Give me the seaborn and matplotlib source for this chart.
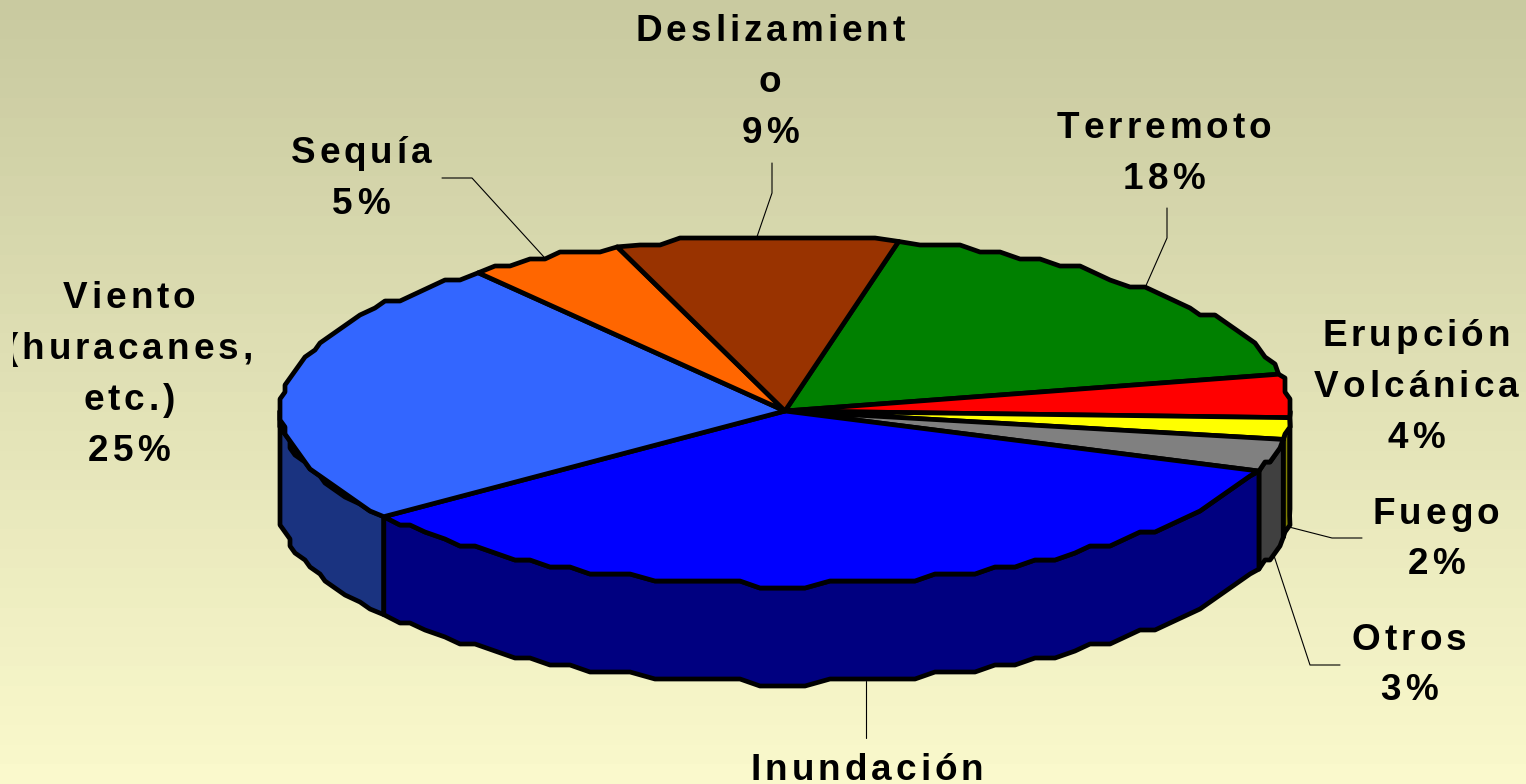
import numpy as np
import matplotlib
matplotlib.use('Agg')
import matplotlib.pyplot as plt
import seaborn as sns
from matplotlib.font_manager import findfont, get_font
from matplotlib.ft2font import LoadFlags
from matplotlib.text import Text
from matplotlib.transforms import Bbox, IdentityTransform

# data, clockwise from the top
categories = ['Terremoto', 'Erupción Volcánica', 'Fuego', 'Otros',
              'Inundación', 'Viento', 'Sequía', 'Deslizamiento']
values = [18, 4, 2, 3, 34, 25, 5, 9]
colors = ['#008000', '#FF0000', '#FFFF00', '#808080',
          '#0000FF', '#3366FF', '#FF6600', '#993300']
label_texts = ['Terremoto\n18%', 'Erupción\nVolcánica\n4%', 'Fuego\n2%', 'Otros\n3%',
               'Inundación', 'Viento\n(huracanes,\netc.)\n25%', 'Sequía\n5%',
               'Deslizamient\no\n9%']

# layout in pixels
W, H = 1526, 784
CX, CY, RX, RY = 785, 411, 505, 174
DEPTH = 98
START = 77
GRID_X, GRID_Y = 5, 7
STEP_DEG = 2.5
# centre of each label, top of its first line
label_pos = [(1164, 106), (1416, 314), (1436, 492), (1409, 618),
             (867, 749), (129, 276), (361, 131), (770, 9)]
elbows = [[(1167, 238), (1167, 208)], None, [(1332, 538), (1362, 538)], [(1310, 665), (1340, 665)],
          [(866, 738)], None, [(472, 178), (442, 178)], [(772, 193), (772, 163)]]
FONT_SIZE = 26.6
LETTER_GAP = 4.0
LINE_PITCH = 51
CAP_HEIGHT = 27
TOP_TO_BASE = 31.5


class SpacedText(Text):
    # matplotlib has no letter spacing, so the glyphs get placed one by one at draw time
    def _lines(self):
        font = get_font(findfont(self.get_fontproperties()))
        font.set_size(self.get_fontsize(), self.get_figure().dpi)
        x, y = self.get_transform().transform(self.get_position())
        out = []
        for i, line in enumerate(self.get_text().split('\n')):
            adv = [font.load_char(ord(c), flags=LoadFlags.NO_HINTING).linearHoriAdvance / 65536
                   for c in line]
            total = sum(adv) + LETTER_GAP * (len(line) - 1)
            xs = x - total / 2 + np.concatenate([[0], np.cumsum(np.array(adv) + LETTER_GAP)[:-1]])
            out.append((line, xs, y - TOP_TO_BASE - i * LINE_PITCH, total))
        return out, x

    def draw(self, renderer):
        lines, _ = self._lines()
        for line, xs, base, _ in lines:
            for c, cx in zip(line, xs):
                t = Text(cx, base, c, fontproperties=self.get_fontproperties(), color=self.get_color(),
                         ha='left', va='baseline', transform=IdentityTransform())
                t.set_figure(self.get_figure())
                t.set_clip_box(self.clipbox)
                t.set_clip_on(self.get_clip_on())
                t.draw(renderer)

    def get_window_extent(self, renderer=None, dpi=None):
        lines, x = self._lines()
        width = max(l[3] for l in lines)
        return Bbox([[x - width / 2, lines[-1][2]], [x + width / 2, lines[0][2] + CAP_HEIGHT]])


def rim(t0, t1, drop=0):
    # the source was a coarse metafile, so the ellipse is snapped to a grid
    ts = np.radians(np.linspace(t0, t1, max(2, int(abs(t1 - t0) / STEP_DEG) + 2)))
    x = np.round((CX + RX * np.cos(ts)) / GRID_X) * GRID_X
    y = np.round((CY - RY * np.sin(ts)) / GRID_Y) * GRID_Y + drop
    x[0], y[0] = CX + RX * np.cos(ts[0]), CY - RY * np.sin(ts[0]) + drop
    x[-1], y[-1] = CX + RX * np.cos(ts[-1]), CY - RY * np.sin(ts[-1]) + drop
    keep = np.r_[True, (np.diff(x) != 0) | (np.diff(y) != 0)]
    return x[keep], y[keep]


sns.set_theme(style='white')
plt.rcParams['font.family'] = ['Liberation Sans', 'DejaVu Sans']

fig = plt.figure(figsize=(W / 100, H / 100), dpi=100)
ax = fig.add_axes([0, 0, 1, 1])

bg = sns.blend_palette(['#C9CAA0', '#FAF9CC'], n_colors=40, as_cmap=True)
ax.imshow(np.linspace(0, 1, 40).reshape(-1, 1), cmap=bg, aspect='auto', extent=[0, W, H, 0], zorder=0)

sweep = 360 * np.array(values) / sum(values)
ends = START - np.cumsum(sweep)
starts = ends + sweep
mids = (starts + ends) / 2
palette = sns.color_palette(colors)
edge = dict(edgecolor='black', linewidth=3.4, joinstyle='round')

# side walls, outside ones first so the front wall covers them
sides = []
for i in range(len(values)):
    hi, lo = min(starts[i], 0), max(ends[i], -180)
    if hi > lo:
        sides.append((abs((hi + lo) / 2 + 90), i, hi, lo))
for _, i, hi, lo in sorted(sides, reverse=True):
    x0, y0 = rim(hi, lo)
    x1, y1 = rim(hi, lo, DEPTH)
    dark = tuple(c / 2 for c in palette[i])
    ax.fill(np.r_[x0, x1[::-1]], np.r_[y0, y1[::-1]], facecolor=dark, zorder=2, **edge)

# top of the pie
for i in range(len(values)):
    x, y = rim(starts[i], ends[i])
    ax.fill(np.r_[CX, x], np.r_[CY, y], facecolor=palette[i], zorder=3, **edge)

# leader lines start on the rim at the middle of each slice
for i, bend in enumerate(elbows):
    if bend is None:
        continue
    t = np.radians(mids[i])
    px = CX + RX * np.cos(t)
    py = CY - RY * np.sin(t) + (DEPTH if -180 < mids[i] < 0 else 0)
    if len(bend) == 1:
        px = bend[0][0]  # straight drop
    pts = [(px, py)] + bend
    ax.plot([p[0] for p in pts], [p[1] for p in pts], color='black', lw=0.8, zorder=1)

for txt, (lx, ly), cat in zip(label_texts, label_pos, categories):
    s = SpacedText(lx, ly, txt, color='black', fontsize=FONT_SIZE, fontweight='bold', zorder=5,
                   ha='center', va='top', linespacing=1.2)
    ax.add_artist(s)
    if cat == 'Viento':
        # the opening bracket is cut off in the original
        s.set_clip_box(Bbox([[13, 0], [W, H]]))
        s.set_clip_on(True)

ax.set_xlim(0, W)
ax.set_ylim(H, 0)
ax.axis('off')
fig.savefig('out.png', dpi=100)
